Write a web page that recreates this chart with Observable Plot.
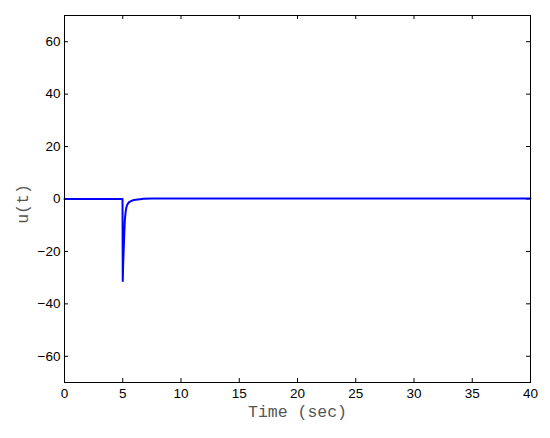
<!DOCTYPE html>
<html><head><meta charset="utf-8">
<script src="https://cdn.jsdelivr.net/npm/d3@7"></script>
<script src="https://cdn.jsdelivr.net/npm/@observablehq/plot@0.6"></script>
<style>body{margin:0;background:#fff}</style>
</head><body><div id="chart"></div>
<script>
// Data
const time = [0, 4.98, 5.0, 5.04, 5.09, 5.14, 5.18, 5.25, 5.32, 5.4, 5.52, 5.7, 5.95, 6.3, 6.8, 7.5, 8.5, 40];
const uValues = [0, 0, -31.3, -24, -18.3, -12, -8.1, -4.8, -3.0, -2.1, -1.3, -0.8, -0.4, -0.15, 0.05, 0.15, 0.2, 0.2];
const xTicks = [0, 5, 10, 15, 20, 25, 30, 35, 40];
const yTicks = [-60, -40, -20, 0, 20, 40, 60];
const xLabel = "Time (sec)";
const yLabel = "u(t)";

const data = time.map((t, i) => ({t, u: uValues[i]}));
const W = 550, H = 438, mL = 64, mR = 20, mT = 15, mB = 56;
const innerW = W - mL - mR, innerH = H - mT - mB;
const tickLen = 4;
const mono = "'Liberation Mono', 'Courier New', monospace";

const chart = Plot.plot({
  width: W, height: H,
  marginLeft: mL, marginRight: mR, marginTop: mT, marginBottom: mB,
  style: {fontFamily: "'Liberation Sans', Arial, sans-serif", fontSize: "13.5px", color: "#000", background: "#fff"},
  x: {domain: [0, 40]},
  y: {domain: [-70, 70]},
  marks: [
    Plot.axisX(xTicks, {tickSize: 0, tickPadding: 6, label: null, fontSize: 13.5}),
    Plot.axisY(yTicks, {tickSize: 0, tickPadding: 4, label: null, fontSize: 13.5}),
    Plot.tickX(xTicks, {x: d => d, insetTop: innerH - tickLen, stroke: "#000"}),
    Plot.tickX(xTicks, {x: d => d, insetBottom: innerH - tickLen, stroke: "#000"}),
    Plot.tickY(yTicks, {y: d => d, insetRight: innerW - tickLen, stroke: "#000"}),
    Plot.tickY(yTicks, {y: d => d, insetLeft: innerW - tickLen, stroke: "#000"}),
    Plot.line(data, {x: "t", y: "u", stroke: "#0000ff", strokeWidth: 2}),
    Plot.frame({stroke: "#000"}),
    Plot.text([xLabel], {text: d => d, frameAnchor: "bottom", dy: 29, fontFamily: mono, fontSize: 16.5, fill: "#555", lineAnchor: "middle", textAnchor: "middle"}),
    Plot.text([yLabel], {text: d => d, frameAnchor: "left", dx: -42, dy: 5, rotate: -90, fontFamily: mono, fontSize: 16.5, fill: "#555", lineAnchor: "middle", textAnchor: "middle"})
  ]
});
document.getElementById("chart").append(chart);
</script>
</body></html>
